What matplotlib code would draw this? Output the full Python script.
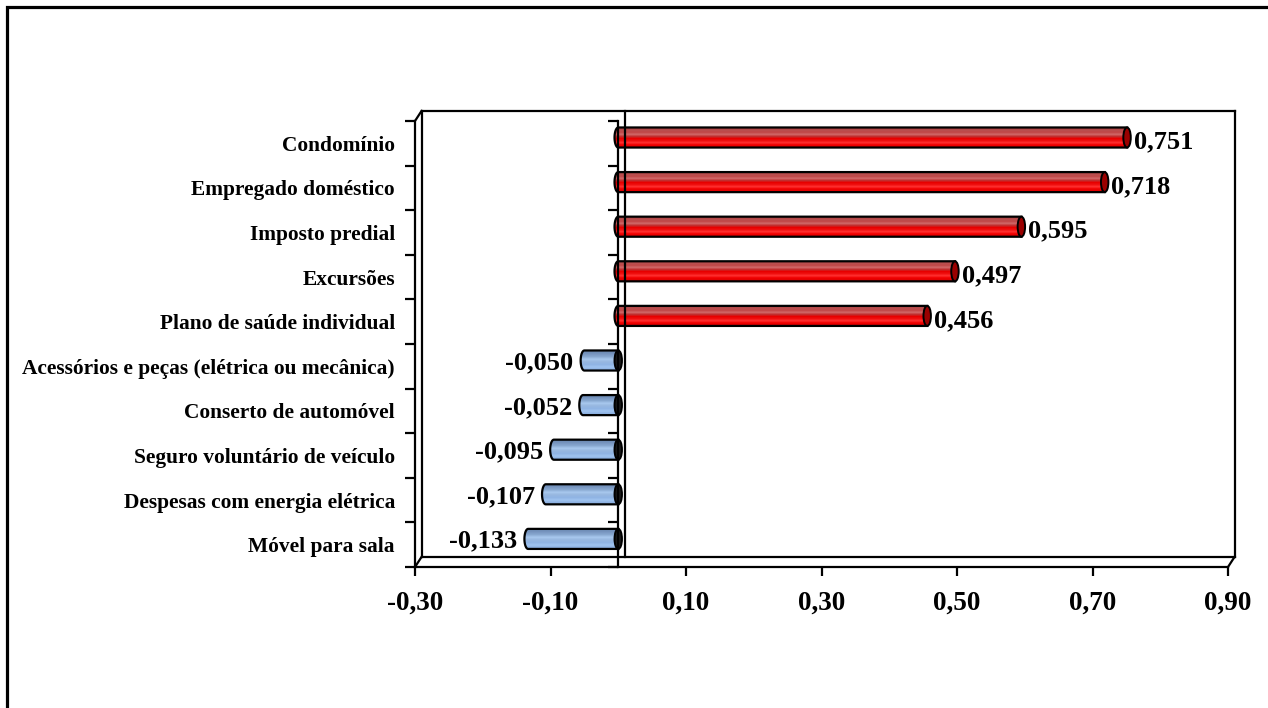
import numpy as np
import matplotlib
matplotlib.use("Agg")
import matplotlib.pyplot as plt
from matplotlib.patches import PathPatch, Ellipse, Rectangle
from matplotlib.path import Path
from matplotlib.lines import Line2D

plt.rcParams['font.family'] = ['Liberation Serif', 'DejaVu Serif']
plt.rcParams['font.weight'] = 'bold'

# data, top to bottom as in the chart
categories = ["Condomínio", "Empregado doméstico", "Imposto predial", "Excursões",
              "Plano de saúde individual", "Acessórios e peças (elétrica ou mecânica)",
              "Conserto de automóvel", "Seguro voluntário de veículo",
              "Despesas com energia elétrica", "Móvel para sala"]
values = [0.751, 0.718, 0.595, 0.497, 0.456, -0.050, -0.052, -0.095, -0.107, -0.133]
xticks = [-0.30, -0.10, 0.10, 0.30, 0.50, 0.70, 0.90]
xmin, xmax = -0.30, 0.90

red_stops = ["#a83a3a", "#b85050", "#c04848", "#d06868", "#c03030",
             "#e80000", "#f01010", "#ff3030", "#f00000", "#e00000"]
blue_stops = ["#6a88b0", "#7896c0", "#88a8d0", "#a8c8ee", "#98b8e0",
              "#90b4e4", "#a0c4f0", "#8cb0e0"]

def fmt(v, nd):
    return f"{v:.{nd}f}".replace(".", ",")

def hex2rgb(h):
    return [int(h[i:i + 2], 16) / 255 for i in (1, 3, 5)]

fig = plt.figure(figsize=(12.68, 7.08), dpi=100)
W, H = 1268, 708
ax = fig.add_axes([415 / W, (H - 567) / H, 813 / W, 446 / H])
ax.set_xlim(xmin, xmax)
ax.set_ylim(-0.5, len(categories) - 0.5)

# outer frame (cut at right/bottom like the reference)
fig.patches.append(Rectangle((7 / W, -0.1), 1.2, (H - 7) / H + 0.1, transform=fig.transFigure,
                             fill=False, lw=2.3, edgecolor="black"))

n = len(categories)
ypos = np.arange(n)[::-1]
bar_h = 0.45
shift = 0.13
ew = 0.0055  # half width of the end ellipse, data units

for cat, v, yi in zip(categories, values, ypos):
    yc = yi + shift
    y0, y1 = yc - bar_h / 2, yc + bar_h / 2
    xl, xr = min(0, v), max(0, v)
    t = np.linspace(np.pi / 2, 3 * np.pi / 2, 30)
    arc = np.column_stack([xl + ew * np.cos(t), yc + bar_h / 2 * np.sin(t)])
    verts = np.vstack([[[xr, y1]], arc, [[xr, y0]], [[xr, y1]]])
    codes = [Path.MOVETO] + [Path.LINETO] * (len(verts) - 2) + [Path.CLOSEPOLY]
    path = Path(verts, codes)
    stops = red_stops if v > 0 else blue_stops
    grad = np.array([hex2rgb(c) for c in stops])[:, None, :]
    im = ax.imshow(grad, extent=[xl - ew, xr, y0, y1], aspect="auto", origin="upper",
                   interpolation="bilinear", zorder=2)
    clip = PathPatch(path, transform=ax.transData, facecolor="none", edgecolor="none")
    ax.add_patch(clip)
    im.set_clip_path(clip)
    ax.add_patch(PathPatch(path, facecolor="none", edgecolor="black", lw=1.6, zorder=3))
    face = "#9a0000" if v > 0 else "#1a1a1a"
    ax.add_patch(Ellipse((xr, yc), 2 * ew, bar_h, facecolor=face, edgecolor="black",
                         lw=1.4, zorder=4))
    if v > 0:
        ax.text(v + 0.010, yc - 0.1, fmt(v, 3), ha="left", va="center",
                fontsize=19, fontweight="bold", zorder=5)
    else:
        ax.text(v - 0.016, yc - 0.05, fmt(v, 3), ha="right", va="center",
                fontsize=19, fontweight="bold", zorder=5)

ax.set_xlim(xmin, xmax)
ax.set_ylim(-0.5, n - 0.5)

# axes, ticks
for s in ["top", "right"]:
    ax.spines[s].set_visible(False)
for s in ["left", "bottom"]:
    ax.spines[s].set_linewidth(1.6)
ax.set_xticks(xticks)
ax.set_xticklabels([fmt(t, 2) for t in xticks], fontsize=19.5, fontweight="bold")
ax.tick_params(axis="x", direction="out", length=6.5, width=1.6, pad=10.5)
bounds = np.arange(n + 1) - 0.5
ax.set_yticks(bounds)
ax.set_yticklabels([])
ax.set_yticks(ypos, minor=True)
ax.set_yticklabels(categories, minor=True, fontsize=15.4, fontweight="bold")
ax.tick_params(axis="y", which="major", direction="out", length=7, width=1.6)
ax.tick_params(axis="y", which="minor", length=0, pad=14.4)

# zero line with its own ticks
zloc = (0 - xmin) / (xmax - xmin)
sec = ax.secondary_yaxis(zloc)
sec.set_yticks(bounds)
sec.set_yticklabels([])
sec.tick_params(axis="y", direction="out", length=7, width=1.6)
sec.spines["left"].set_linewidth(1.6)
sec.set_zorder(6)

# back wall of the 3-D box
dx, dy = 6.5 / 813, 10 / 446
back = [((dx, dx), (dy, 1 + dy)), ((dx, 1 + dx), (1 + dy, 1 + dy)),
        ((1 + dx, 1 + dx), (dy, 1 + dy)), ((dx, 1 + dx), (dy, dy)),
        ((0, dx), (0, dy)), ((1, 1 + dx), (0, dy)), ((0, dx), (1, 1 + dy)),
        ((zloc + dx, zloc + dx), (dy, 1 + dy))]
for xs, ys in back:
    ax.add_line(Line2D(xs, ys, transform=ax.transAxes, color="black", lw=1.6,
                       clip_on=False, zorder=6))

fig.savefig("out.png", dpi=100)
